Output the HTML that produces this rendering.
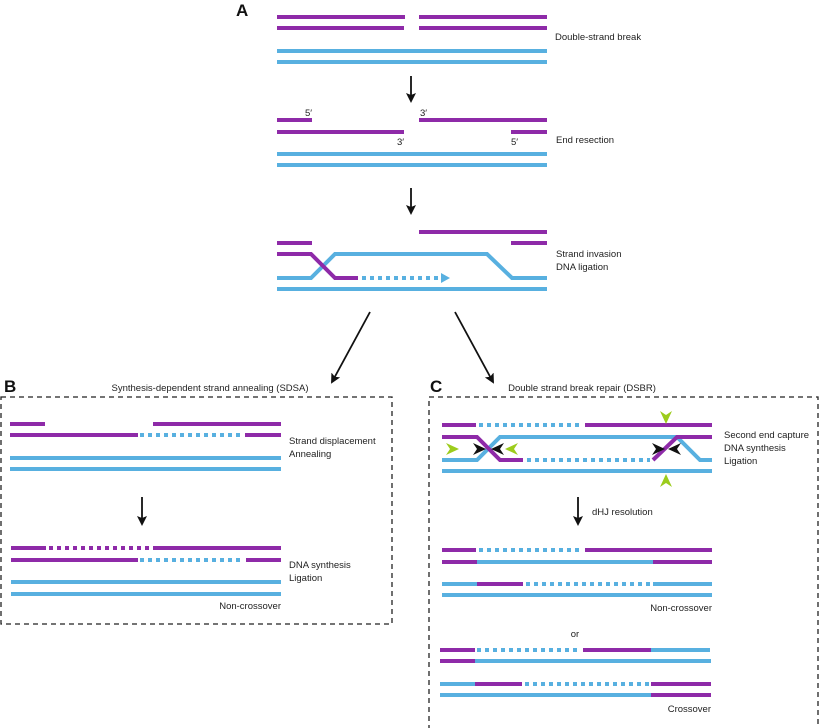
<!DOCTYPE html>
<html><head><meta charset="utf-8"><style>
html,body{margin:0;padding:0;background:#fff;width:822px;height:728px;overflow:hidden}
svg{display:block}
text{font-family:"Liberation Sans",sans-serif;font-size:9.5px;fill:#222}
.p{stroke:#8e2aa8;stroke-width:4;fill:none}
.b{stroke:#58b0e0;stroke-width:4;fill:none}
.bd{stroke:#58b0e0;stroke-width:4;fill:none;stroke-dasharray:4 4}
.pd{stroke:#8e2aa8;stroke-width:4;fill:none;stroke-dasharray:4 4}
.ar{stroke:#111;stroke-width:1.8;fill:none}
.box{stroke:#222;stroke-width:1.3;fill:none;stroke-dasharray:5 4}
.L{font-size:17px;font-weight:bold;fill:#111}
</style></head><body>
<svg width="822" height="728" viewBox="0 0 822 728">
<defs><marker id="ah" markerWidth="10" markerHeight="10" refX="8" refY="5" orient="auto" markerUnits="userSpaceOnUse"><path d="M0,0 L10,5 L0,10 L2,5Z" fill="#111"/></marker></defs>
<text class="L" x="236" y="16">A</text>
<line class="p" x1="277" y1="17" x2="405" y2="17"/><line class="p" x1="419" y1="17" x2="547" y2="17"/>
<line class="p" x1="277" y1="28" x2="404" y2="28"/><line class="p" x1="419" y1="28" x2="547" y2="28"/>
<line class="b" x1="277" y1="51" x2="547" y2="51"/><line class="b" x1="277" y1="62" x2="547" y2="62"/>
<text x="555" y="40">Double-strand break</text>
<line class="ar" x1="411" y1="76" x2="411" y2="101" marker-end="url(#ah)"/>
<text x="305" y="116">5′</text><text x="420" y="116">3′</text>
<line class="p" x1="277" y1="120" x2="312" y2="120"/><line class="p" x1="419" y1="120" x2="547" y2="120"/>
<line class="p" x1="277" y1="132" x2="404" y2="132"/><line class="p" x1="511" y1="132" x2="547" y2="132"/>
<text x="397" y="145">3′</text><text x="511" y="145">5′</text>
<text x="556" y="143">End resection</text>
<line class="b" x1="277" y1="154" x2="547" y2="154"/><line class="b" x1="277" y1="165" x2="547" y2="165"/>
<line class="ar" x1="411" y1="188" x2="411" y2="213" marker-end="url(#ah)"/>
<line class="p" x1="419" y1="232" x2="547" y2="232"/>
<line class="p" x1="277" y1="243" x2="312" y2="243"/><line class="p" x1="511" y1="243" x2="547" y2="243"/>
<polyline class="b" points="277,278 311,278 335,254 487,254 512,278 547,278"/>
<polyline class="p" points="277,254 311,254 335,278 358,278"/>
<line class="bd" x1="362" y1="278" x2="442" y2="278"/>
<path d="M441,273 L450,278 L441,283Z" fill="#58b0e0"/>
<line class="b" x1="277" y1="289" x2="547" y2="289"/>
<text x="556" y="257">Strand invasion</text><text x="556" y="270">DNA ligation</text>
<line class="ar" x1="370" y1="312" x2="332" y2="382" marker-end="url(#ah)"/>
<line class="ar" x1="455" y1="312" x2="493" y2="382" marker-end="url(#ah)"/>
<text class="L" x="4" y="392">B</text>
<text x="210" y="391" text-anchor="middle">Synthesis-dependent strand annealing (SDSA)</text>
<rect class="box" x="1" y="397" width="391" height="227"/>
<line class="p" x1="10" y1="424" x2="45" y2="424"/><line class="p" x1="153" y1="424" x2="281" y2="424"/>
<line class="p" x1="10" y1="435" x2="138" y2="435"/><line class="bd" x1="140" y1="435" x2="244" y2="435"/><line class="p" x1="245" y1="435" x2="281" y2="435"/>
<line class="b" x1="10" y1="458" x2="281" y2="458"/><line class="b" x1="10" y1="469" x2="281" y2="469"/>
<text x="289" y="444">Strand displacement</text><text x="289" y="457">Annealing</text>
<line class="ar" x1="142" y1="497" x2="142" y2="524" marker-end="url(#ah)"/>
<line class="p" x1="11" y1="548" x2="46" y2="548"/><line class="pd" x1="49" y1="548" x2="151" y2="548"/><line class="p" x1="153" y1="548" x2="281" y2="548"/>
<line class="p" x1="11" y1="560" x2="138" y2="560"/><line class="bd" x1="140" y1="560" x2="244" y2="560"/><line class="p" x1="246" y1="560" x2="281" y2="560"/>
<line class="b" x1="11" y1="582" x2="281" y2="582"/><line class="b" x1="11" y1="594" x2="281" y2="594"/>
<text x="289" y="568">DNA synthesis</text><text x="289" y="581">Ligation</text>
<text x="281" y="609" text-anchor="end">Non-crossover</text>
<text class="L" x="430" y="392">C</text>
<text x="582" y="391" text-anchor="middle">Double strand break repair (DSBR)</text>
<rect class="box" x="429" y="397" width="389" height="340"/>
<line class="p" x1="442" y1="425" x2="476" y2="425"/><line class="bd" x1="479" y1="425" x2="583" y2="425"/><line class="p" x1="585" y1="425" x2="712" y2="425"/>
<polyline class="b" points="442,460 477,460 500,437 677,437 700,460 712,460"/>
<polyline class="p" points="442,437 477,437 500,460 523,460"/>
<polyline class="p" points="653,460 677,437 712,437"/>
<line class="bd" x1="527" y1="460" x2="650" y2="460"/>
<line class="b" x1="442" y1="471" x2="712" y2="471"/>
<g fill="#9ccc1c"><path d="M459,449 L446,443 L450,449 L446,455Z"/><path d="M505,449 L518,443 L514,449 L518,455Z"/><path d="M666,424 L660,411 L666,415 L672,411Z"/><path d="M666,474 L660,487 L666,483 L672,487Z"/></g>
<g fill="#111"><path d="M486,449 L473,443 L477,449 L473,455Z"/><path d="M491,449 L504,443 L500,449 L504,455Z"/><path d="M665,449 L652,443 L656,449 L652,455Z"/><path d="M668,449 L681,443 L677,449 L681,455Z"/></g>
<text x="724" y="438">Second end capture</text><text x="724" y="451">DNA synthesis</text><text x="724" y="464">Ligation</text>
<line class="ar" x1="578" y1="497" x2="578" y2="524" marker-end="url(#ah)"/>
<text x="592" y="515">dHJ resolution</text>
<line class="p" x1="442" y1="550" x2="476" y2="550"/><line class="bd" x1="479" y1="550" x2="582" y2="550"/><line class="p" x1="585" y1="550" x2="712" y2="550"/>
<line class="p" x1="442" y1="562" x2="477" y2="562"/><line class="b" x1="477" y1="562" x2="653" y2="562"/><line class="p" x1="653" y1="562" x2="712" y2="562"/>
<line class="b" x1="442" y1="584" x2="477" y2="584"/><line class="p" x1="477" y1="584" x2="523" y2="584"/><line class="bd" x1="526" y1="584" x2="651" y2="584"/><line class="b" x1="653" y1="584" x2="712" y2="584"/>
<line class="b" x1="442" y1="595" x2="712" y2="595"/>
<text x="712" y="611" text-anchor="end">Non-crossover</text>
<text x="575" y="637" text-anchor="middle">or</text>
<line class="p" x1="440" y1="650" x2="475" y2="650"/><line class="bd" x1="477" y1="650" x2="581" y2="650"/><line class="p" x1="583" y1="650" x2="651" y2="650"/><line class="b" x1="651" y1="650" x2="710" y2="650"/>
<line class="p" x1="440" y1="661" x2="475" y2="661"/><line class="b" x1="475" y1="661" x2="711" y2="661"/>
<line class="b" x1="440" y1="684" x2="475" y2="684"/><line class="p" x1="475" y1="684" x2="522" y2="684"/><line class="bd" x1="525" y1="684" x2="650" y2="684"/><line class="p" x1="651" y1="684" x2="711" y2="684"/>
<line class="b" x1="440" y1="695" x2="651" y2="695"/><line class="p" x1="651" y1="695" x2="711" y2="695"/>
<text x="711" y="712" text-anchor="end">Crossover</text>
</svg>
</body></html>
